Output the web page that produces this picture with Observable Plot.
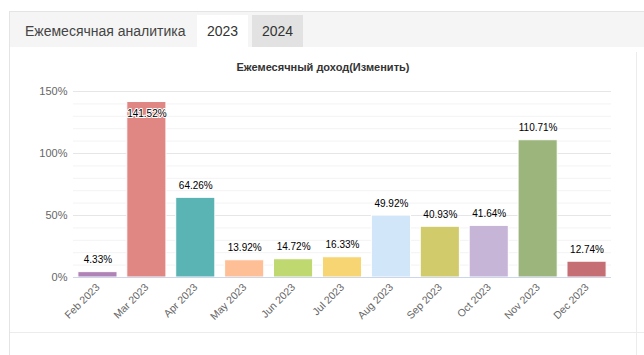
<!DOCTYPE html>
<html>
<head>
<meta charset="utf-8">
<script src="https://cdn.jsdelivr.net/npm/d3@7"></script>
<script src="https://cdn.jsdelivr.net/npm/@observablehq/plot@0.6"></script>
<style>
  html, body { margin: 0; padding: 0; background: #fff; }
  body { width: 644px; height: 355px; position: relative; overflow: hidden;
         font-family: "Liberation Sans", Arial, sans-serif; }
  .abs { position: absolute; }
  #outer { left: 9px; top: 11px; right: 0; bottom: 0;
           border-left: 1px solid #e4e4e4; border-top: 1px solid #e4e4e4; }
  #tabbar { left: 10px; top: 12px; width: 634px; height: 35px; background: #f5f5f5; }
  .tab { top: 15px; height: 32px; line-height: 32px; font-size: 14px; color: #333; text-align: center; }
  #t0 { left: 25px; color: #444; }
  #t1 { left: 197px; width: 51px; background: #fff; }
  #t2 { left: 252px; width: 51px; background: #e2e2e2; }
  #vline { left: 636px; top: 52px; width: 1px; bottom: 0; background: #ececec; }
  #hline { left: 10px; top: 332px; right: 0; height: 1px; background: #ececec; }
  #title { left: 10px; width: 626px; top: 62px; line-height: 11px; font-size: 11px;
           font-weight: bold; color: #333; text-align: center; }
  #chart { left: 10px; top: 76px; }
</style>
</head>
<body>
<div id="outer" class="abs"></div>
<div id="tabbar" class="abs"></div>
<div id="t0" class="abs tab">Ежемесячная аналитика</div>
<div id="t1" class="abs tab">2023</div>
<div id="t2" class="abs tab">2024</div>
<div id="vline" class="abs"></div>
<div id="hline" class="abs"></div>
<div id="title" class="abs">Ежемесячный доход(Изменить)</div>
<div id="chart" class="abs"></div>
<script>
const months = ["Feb 2023", "Mar 2023", "Apr 2023", "May 2023", "Jun 2023", "Jul 2023",
                "Aug 2023", "Sep 2023", "Oct 2023", "Nov 2023", "Dec 2023"];
const values = [4.33, 141.52, 64.26, 13.92, 14.72, 16.33, 49.92, 40.93, 41.64, 110.71, 12.74];
const colors = ["#b083b6", "#e08784", "#5ab4b3", "#ffbf96", "#bfd870", "#f6d572",
                "#d1e6f8", "#d2cb6c", "#c6b5d7", "#9cb57d", "#c56e73"];
const majorTicks = [0, 50, 100, 150];
const minorTicks = [10, 20, 30, 40, 60, 70, 80, 90, 110, 120, 130, 140];

const data = months.map((m, i) => ({month: m, value: values[i]}));
const fmt = d => d.value.toFixed(2) + "%";

const chart = Plot.plot({
  width: 626,
  height: 256,
  marginLeft: 63,
  marginRight: 25,
  marginTop: 15,
  marginBottom: 55,
  style: {fontFamily: "'Liberation Sans', Arial, sans-serif", background: "transparent", overflow: "visible"},
  x: {domain: months, paddingInner: 0.2, paddingOuter: 0.1, round: false, axis: null, label: null},
  y: {domain: [0, 150], axis: null, label: null},
  color: {domain: months, range: colors},
  marks: [
    Plot.ruleY(minorTicks, {stroke: "#f3f3f3"}),
    Plot.ruleY(majorTicks.filter(t => t > 0), {stroke: "#e6e6e6"}),
    Plot.barY(data, {x: "month", y: "value", fill: "month", stroke: "white", strokeWidth: 1}),
    Plot.ruleY([0], {stroke: "#ccd6eb"}),
    Plot.axisY(majorTicks, {tickSize: 0, tickPadding: 6, tickFormat: d => d + "%", fontSize: 11, fill: "#666", label: null}),
    Plot.axisX({tickSize: 0, tickRotate: -45, tickPadding: 8, fontSize: 10.5, fill: "#666", label: null}),
    Plot.text(data.filter(d => d.value < 130), {x: "month", y: "value", text: fmt,
      lineAnchor: "bottom", dy: -9, fontSize: 10, fill: "#000"}),
    Plot.text(data.filter(d => d.value >= 130), {x: "month", y: "value", text: fmt,
      lineAnchor: "top", dy: 8, fontSize: 10, fill: "#000", stroke: "white", strokeWidth: 2})
  ]
});
document.getElementById("chart").appendChild(chart);
</script>
</body>
</html>
